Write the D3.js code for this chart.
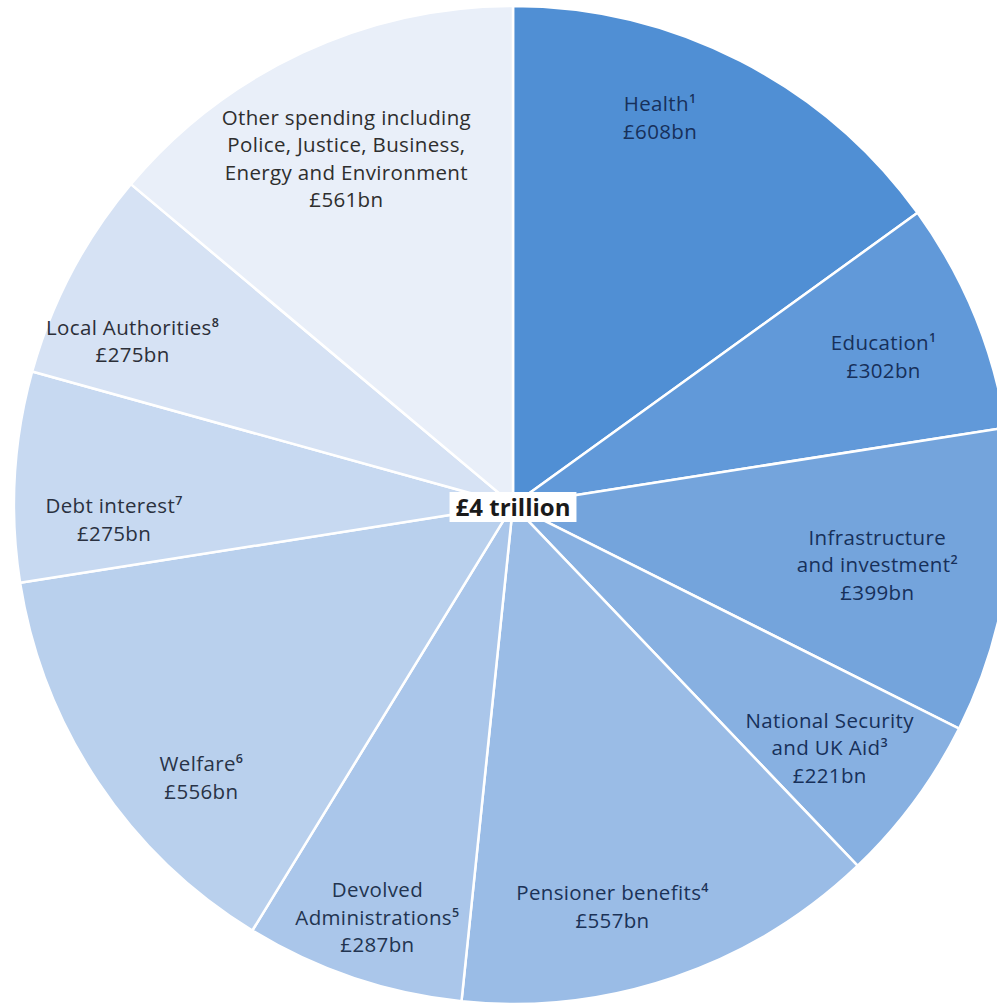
<!DOCTYPE html>
<html>
<head>
<meta charset="utf-8">
<script src="https://cdn.jsdelivr.net/npm/d3@7"></script>
<style>
  html, body { margin: 0; padding: 0; background: #ffffff; overflow: hidden; }
  svg { display: block; }
</style>
</head>
<body>
<svg id="chart" width="997" height="1005"></svg>
<script>
// ---- Data ----
const categories = [
  ["Health"],
  ["Education"],
  ["Infrastructure", "and investment"],
  ["National Security", "and UK Aid"],
  ["Pensioner benefits"],
  ["Devolved", "Administrations"],
  ["Welfare"],
  ["Debt interest"],
  ["Local Authorities"],
  ["Other spending including", "Police, Justice, Business,", "Energy and Environment"]
];
const footnotes = ["1", "1", "2", "3", "4", "5", "6", "7", "8", ""];
const values = [608, 302, 399, 221, 557, 287, 556, 275, 275, 561];
const totalLabel = "£4 trillion";

// ---- Styles / layout ----
const colors = ["#508fd4", "#6199d9", "#74a4dc", "#87b0e1", "#9abce6", "#aac6ea",
                "#b9d0ed", "#c7d9f1", "#d6e2f4", "#e9eff9"];
const textColors = ["#17305a", "#17305a", "#17305a", "#17305a", "#1b3257", "#223450",
                    "#283347", "#2a3140", "#2c2f38", "#2e2e2e"];
// label anchor in polar form: [angle in degrees clockwise from top, fraction of radius]
const labelPolar = [[20.8, 0.83], [68.2, 0.80], [99.4, 0.74], [127.5, 0.80], [166.1, 0.83],
                    [198.2, 0.87], [228.8, 0.83], [267.9, 0.80], [293.3, 0.83], [334.3, 0.77]];

const cx = 513, cy = 505, R = 499;
const fontSize = 20.5, lineH = 27.6;

const svg = d3.select("#chart");
const g = svg.append("g").attr("transform", `translate(${cx},${cy})`);

const data = values.map((v, i) => ({ i, v, lines: categories[i], note: footnotes[i] }));
const pie = d3.pie().sort(null).value(d => d.v);
const arc = d3.arc().innerRadius(0).outerRadius(R);

g.selectAll("path.slice")
  .data(pie(data))
  .join("path")
  .attr("class", "slice")
  .attr("d", arc)
  .attr("fill", d => colors[d.data.i])
  .attr("stroke", "#ffffff")
  .attr("stroke-width", 2.5)
  .attr("stroke-linejoin", "round");

// labels
const angle = d3.scaleLinear().domain([0, 360]).range([0, 2 * Math.PI]);
g.selectAll("text.lab")
  .data(data)
  .join("text")
  .attr("class", "lab")
  .attr("font-family", "'Open Sans', 'Noto Sans', sans-serif")
  .attr("font-size", fontSize)
  .attr("letter-spacing", 0.35)
  .attr("fill", d => textColors[d.i])
  .attr("text-anchor", "middle")
  .each(function(d) {
    const [deg, f] = labelPolar[d.i];
    const a = angle(deg);
    const x = Math.sin(a) * R * f;
    const y = -Math.cos(a) * R * f;
    const allLines = d.lines.concat(["£" + d.v + "bn"]);
    const n = allLines.length;
    const y0 = y - (n - 1) * lineH / 2 + fontSize * 0.35;
    const t = d3.select(this);
    allLines.forEach((ln, k) => {
      t.append("tspan").attr("x", x).attr("y", y0 + k * lineH).text(ln);
      if (k === d.lines.length - 1 && d.note) {
        t.append("tspan")
          .attr("font-size", 12.5)
          .attr("font-weight", 600)
          .attr("dy", -8)
          .text(d.note);
      }
    });
  });

// center label
const ct = g.append("text")
  .attr("text-anchor", "middle")
  .attr("font-family", "'Open Sans', 'Noto Sans', sans-serif")
  .attr("font-weight", "bold")
  .attr("font-size", 24)
  .attr("fill", "#1a1a1a")
  .attr("x", 0)
  .attr("y", 11)
  .text(totalLabel);
const bb = ct.node().getBBox();
g.insert("rect", "text")
  .attr("x", bb.x - 6)
  .attr("y", -13)
  .attr("width", bb.width + 12)
  .attr("height", 30)
  .attr("fill", "#ffffff");
</script>
</body>
</html>
